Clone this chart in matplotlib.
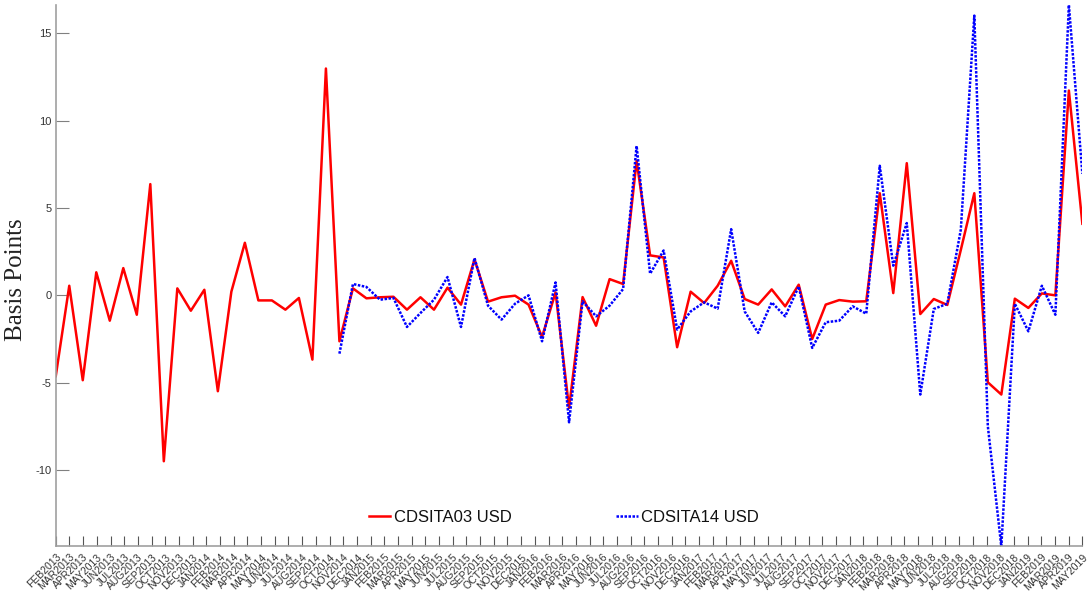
import numpy as np
import pandas as pd
import matplotlib
matplotlib.use("Agg")
import matplotlib.pyplot as plt

# Month tick labels (76 labels, FEB2013 .. MAY2019)
month_labels = [p.strftime("%b%Y").upper() for p in pd.period_range("2013-02", "2019-05", freq="M")]

# CDSITA03 USD (77 observations)
cdsita03 = [-4.63, 0.55, -4.86, 1.32, -1.45, 1.56, -1.11, 6.37, -9.50, 0.40,
            -0.88, 0.32, -5.49, 0.21, 3.01, -0.29, -0.29, -0.82, -0.15, -3.68,
            12.99, -2.63, 0.40, -0.17, -0.11, -0.08, -0.82, -0.11, -0.82, 0.44,
            -0.53, 2.06, -0.36, -0.11, -0.02, -0.53, -2.38, 0.17, -6.45, -0.10,
            -1.74, 0.93, 0.65, 7.70, 2.29, 2.17, -2.97, 0.21, -0.44, 0.55,
            1.98, -0.21, -0.53, 0.34, -0.63, 0.61, -2.50, -0.53, -0.27, -0.36,
            -0.34, 5.85, 0.13, 7.57, -1.07, -0.21, -0.55, 2.60, 5.85, -4.98,
            -5.68, -0.19, -0.72, 0.11, 0.00, 11.73, 4.10]

# CDSITA14 USD (starts at the 22nd observation)
cdsita14_start = 21
cdsita14 = [-3.34, 0.65, 0.48, -0.25, -0.15, -1.81, -1.01, -0.25, 1.05, -1.81,
            2.14, -0.59, -1.39, -0.48, 0.00, -2.63, 0.74, -7.27, -0.34, -1.20,
            -0.59, 0.36, 8.56, 1.24, 2.57, -1.96, -0.92, -0.40, -0.76, 3.79,
            -0.92, -2.15, -0.40, -1.20, 0.51, -3.01, -1.54, -1.45, -0.63, -1.05,
            7.42, 1.70, 4.14, -5.68, -0.78, -0.48, 3.76, 16.02, -7.49, -14.38,
            -0.48, -2.06, 0.55, -1.11, 16.63, 6.96]

x03 = np.arange(len(cdsita03))
x14 = np.arange(cdsita14_start, cdsita14_start + len(cdsita14))

fig = plt.figure(figsize=(10.91, 5.98), dpi=100)
ax = fig.add_axes([0.0511, 0.0862, 0.941, 0.9055])

ax.plot(x03, cdsita03, color="#ff0000", lw=1.8, label="CDSITA03 USD")
ax.plot(x14, cdsita14, color="#0000ff", lw=1.8, ls=(0, (1, 0.6)), label="CDSITA14 USD")

n = len(cdsita03) - 1
ax.set_xlim(0, n)
ax.set_ylim(min(min(cdsita03), min(cdsita14)), max(max(cdsita03), max(cdsita14)))

ax.set_xticks(np.linspace(0, n, len(month_labels)))
ax.set_xticklabels(month_labels, rotation=45, ha="right", va="top",
                   rotation_mode="anchor", fontsize=7.5, color="#333333",
                   family="Liberation Sans")
ax.set_yticks([-10, -5, 0, 5, 10, 15])
ax.set_yticklabels(["-10", "-5", "0", "5", "10", "15"], fontsize=8,
                   color="#333333", family="Liberation Sans")
ax.tick_params(axis="x", direction="in", length=7, width=0.8, color="#555555", pad=4)
ax.tick_params(axis="y", direction="in", length=9, width=0.8, color="#808080", pad=3)

for s in ["top", "right"]:
    ax.spines[s].set_visible(False)
for s in ["left", "bottom"]:
    ax.spines[s].set_color("#a0a0a0")
    ax.spines[s].set_linewidth(1.2)

ax.set_ylabel("Basis Points", family="Liberation Serif", fontsize=18,
              color="#222222")
ax.yaxis.set_label_coords(-0.028, 0.493)

leg = ax.legend(loc="center", bbox_to_anchor=(0.495, 0.053), ncol=2,
                frameon=False, prop={"family": "Liberation Sans", "size": 12},
                handlelength=1.3, handletextpad=0.2, columnspacing=6.3)
for t in leg.get_texts():
    t.set_color("#111111")

fig.savefig("out.png", dpi=100)
